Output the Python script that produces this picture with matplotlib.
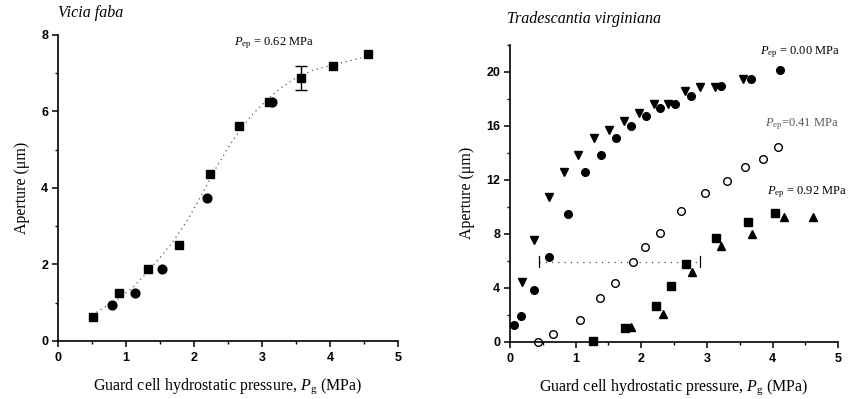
import matplotlib
matplotlib.use("Agg")
import matplotlib.pyplot as plt
from matplotlib.ticker import MultipleLocator

plt.rcParams["mathtext.fontset"] = "custom"
plt.rcParams["mathtext.rm"] = "Liberation Serif"
plt.rcParams["mathtext.it"] = "Liberation Serif:italic"

# Vicia faba (left panel)
vf_sq_x = [0.51, 0.90, 1.32, 1.78, 2.24, 2.66, 3.10, 3.57, 4.05, 4.56]
vf_sq_y = [0.64, 1.25, 1.88, 2.51, 4.37, 5.63, 6.25, 6.88, 7.19, 7.50]
vf_ci_x = [0.79, 1.13, 1.53, 2.19, 3.14]
vf_ci_y = [0.94, 1.25, 1.88, 3.73, 6.25]
vf_err_x = [3.57]
vf_err_y = [6.88]
vf_err = [0.31]
vf_fit_x = [0.5, 0.7, 0.9, 1.1, 1.3, 1.5, 1.7, 1.9, 2.1, 2.3, 2.5, 2.7, 2.9,
            3.1, 3.3, 3.5, 3.75, 4.0, 4.3, 4.56]
vf_fit_y = [0.68, 0.90, 1.12, 1.40, 1.78, 2.18, 2.62, 3.15, 3.78, 4.45, 5.05,
            5.58, 6.00, 6.35, 6.65, 6.88, 7.08, 7.20, 7.33, 7.45]

# Tradescantia virginiana (right panel)
t0_ci_x = [0.06, 0.17, 0.36, 0.59, 0.88, 1.14, 1.38, 1.61, 1.84, 2.07, 2.29,
           2.52, 2.76, 3.21, 3.67, 4.12]
t0_ci_y = [1.26, 1.93, 3.81, 6.31, 9.48, 12.60, 13.84, 15.10, 15.96, 16.70,
           17.30, 17.62, 18.22, 18.93, 19.50, 20.12]
t0_tri_x = [0.18, 0.37, 0.59, 0.83, 1.04, 1.28, 1.51, 1.74, 1.97, 2.19, 2.41,
            2.67, 2.89, 3.13, 3.55]
t0_tri_y = [4.41, 7.55, 10.70, 12.58, 13.84, 15.07, 15.72, 16.33, 16.98,
            17.62, 17.62, 18.56, 18.89, 18.89, 19.50]
t41_x = [0.42, 0.66, 1.07, 1.37, 1.60, 1.88, 2.06, 2.29, 2.61, 2.97, 3.30,
         3.58, 3.86, 4.08]
t41_y = [0.0, 0.60, 1.59, 3.24, 4.36, 5.89, 7.00, 8.07, 9.70, 11.02, 11.88,
         12.99, 13.54, 14.43]
t92_sq_x = [1.27, 1.75, 2.22, 2.46, 2.68, 3.14, 3.63, 4.04]
t92_sq_y = [0.07, 1.04, 2.63, 4.16, 5.79, 7.68, 8.91, 9.58]
t92_tri_x = [1.84, 2.33, 2.77, 3.22, 3.69, 4.17, 4.62]
t92_tri_y = [1.11, 2.06, 5.20, 7.08, 8.02, 9.28, 9.28]
# horizontal bracket
br_x = [0.44, 2.89]
br_y = 5.94
br_h = 0.40

tick_font = dict(family="Liberation Sans", weight="bold", size=9)
lab_font = dict(family="Liberation Serif", size=11.5)
xlabel = r"Guard cell hydrostatic pressure, $P_{\rm g}$ (MPa)"
ylabel = "Aperture (\u03bcm)"

fig = plt.figure(figsize=(8.48, 3.99), dpi=100)


def style_axes(ax):
    for s in ["top", "right"]:
        ax.spines[s].set_visible(False)
    for s in ["left", "bottom"]:
        ax.spines[s].set_linewidth(1.2)
    ax.tick_params(which="major", direction="out", length=4, width=1.1,
                   pad=3)
    ax.tick_params(axis="x", which="major", pad=4)
    ax.tick_params(which="minor", direction="out", length=2.5, width=1.0)
    for lab in ax.get_xticklabels() + ax.get_yticklabels():
        lab.set_fontfamily(tick_font["family"])
        lab.set_fontweight(tick_font["weight"])
        lab.set_fontsize(tick_font["size"])


# ---- left panel
ax1 = fig.add_axes([0.0684, 0.1454, 0.401, 0.7669])
ax1.set_xlim(0, 5)
ax1.set_ylim(0, 8)
ax1.xaxis.set_major_locator(MultipleLocator(1))
ax1.xaxis.set_minor_locator(MultipleLocator(0.5))
ax1.yaxis.set_major_locator(MultipleLocator(2))
ax1.yaxis.set_minor_locator(MultipleLocator(1))
ax1.plot(vf_fit_x, vf_fit_y, linestyle=(0, (1, 3)), color="0.35", lw=0.9)
ax1.errorbar(vf_err_x, vf_err_y, yerr=vf_err, fmt="none", ecolor="black",
             elinewidth=1.0, capsize=4.5, capthick=1.0)
ax1.plot(vf_sq_x, vf_sq_y, "s", color="black", ms=6.3, mec="black")
ax1.plot(vf_ci_x, vf_ci_y, "o", color="black", ms=6.3)
ax1.set_xlabel(xlabel, labelpad=9, **lab_font)
ax1.set_ylabel(ylabel, labelpad=8, **lab_font)
ax1.text(3.18, 7.79, r"$P_{\rm ep}$ = 0.62 MPa", family="Liberation Serif",
         size=9, ha="center", va="center")
ax1.text(0.0, 1.045, "Vicia faba", transform=ax1.transAxes,
         family="Liberation Serif", style="italic", size=11.5, ha="left",
         va="bottom")
style_axes(ax1)

# ---- right panel
ax2 = fig.add_axes([0.6014, 0.1436, 0.3871, 0.7436])
ax2.set_xlim(0, 5)
ax2.set_ylim(0, 22)
ax2.xaxis.set_major_locator(MultipleLocator(1))
ax2.xaxis.set_minor_locator(MultipleLocator(0.5))
ax2.set_yticks([0, 4, 8, 12, 16, 20])
ax2.set_yticks([2, 6, 10, 14, 18, 22], minor=True)
ax2.plot(br_x, [br_y, br_y], linestyle=(0, (1, 4)), color="0.3", lw=0.9)
for bx in br_x:
    ax2.plot([bx, bx], [br_y - br_h, br_y + br_h], color="black", lw=0.9)
ax2.plot(t0_ci_x, t0_ci_y, "o", color="black", ms=5.5)
ax2.plot(t0_tri_x, t0_tri_y, "v", color="black", ms=6)
ax2.plot(t41_x, t41_y, "o", mfc="white", mec="black", mew=1.0, ms=5.5,
         clip_on=False)
ax2.plot(t92_sq_x, t92_sq_y, "s", color="black", ms=5.5, clip_on=False)
ax2.plot(t92_tri_x, t92_tri_y, "^", color="black", ms=6)
ax2.set_xlabel(xlabel, labelpad=9, **lab_font)
ax2.set_ylabel(ylabel, labelpad=8, **lab_font)
ax2.text(4.42, 21.5, r"$P_{\rm ep}$ = 0.00 MPa", family="Liberation Serif",
         size=9, ha="center", va="center")
ax2.text(4.45, 16.1, r"$P_{\rm ep}$=0.41 MPa", family="Liberation Serif",
         size=9, ha="center", va="center", color="0.35")
ax2.text(4.52, 11.1, r"$P_{\rm ep}$ = 0.92 MPa", family="Liberation Serif",
         size=9, ha="center", va="center")
ax2.text(-0.01, 1.06, "Tradescantia virginiana", transform=ax2.transAxes,
         family="Liberation Serif", style="italic", size=11.5, ha="left",
         va="bottom")
style_axes(ax2)

fig.savefig("out.png", dpi=100)
